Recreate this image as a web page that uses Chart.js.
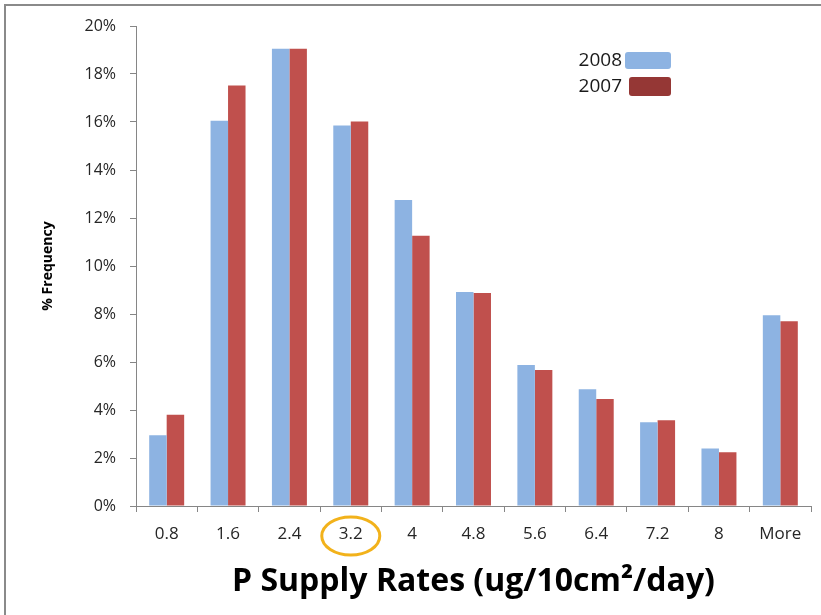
<!DOCTYPE html>
<html>
<head>
<meta charset="utf-8">
<script src="https://cdn.jsdelivr.net/npm/chart.js@4/dist/chart.umd.min.js"></script>
<style>
  html, body { margin: 0; padding: 0; background: #fff; }
  #wrap { width: 821px; height: 615px; position: relative; }
</style>
</head>
<body>
<div id="wrap"><canvas id="freqChart" width="821" height="615"></canvas></div>
<script>
// P supply rate bins and % frequency per year
const rateBins = ['0.8', '1.6', '2.4', '3.2', '4', '4.8', '5.6', '6.4', '7.2', '8', 'More'];
const freq2008 = [2.95, 16.05, 19.05, 15.85, 12.75, 8.92, 5.88, 4.86, 3.49, 2.4, 7.95];
const freq2007 = [3.8, 17.52, 19.05, 16.02, 11.26, 8.87, 5.67, 4.46, 3.57, 2.24, 7.7];
const yTicks = [0, 2, 4, 6, 8, 10, 12, 14, 16, 18, 20];

const blue = '#8db3e2';
const red = '#c0504d';
const legendRed = '#953735';
const labelFont = '"Open Sans", Lato, sans-serif';

let ctx = document.getElementById('freqChart').getContext('2d');

// frame lines + circle around 3.2 + legend on the right side
const extras = {
  id: 'extras',
  beforeDraw(chart) {
    let c = chart.ctx;
    c.save();
    c.fillStyle = '#fff';
    c.fillRect(0, 0, chart.width, chart.height);
    c.strokeStyle = '#8a8a8a';
    c.lineWidth = 2;
    c.beginPath();
    c.moveTo(5, chart.height);
    c.lineTo(5, 5);
    c.lineTo(chart.width, 5);
    c.stroke();
    c.restore();
  },
  afterDraw(chart) {
    let c = chart.ctx;
    let xs = chart.scales.x;
    c.save();
    // highlight ring around the 3.2 label
    let cx = xs.getPixelForValue(3);
    c.strokeStyle = '#f2b21b';
    c.lineWidth = 3;
    c.beginPath();
    c.ellipse(cx, 536, 29, 19, 0, 0, Math.PI * 2);
    c.stroke();

    // legend
    c.font = '19px ' + labelFont;
    c.fillStyle = '#1a1a1a';
    c.textAlign = 'right';
    c.textBaseline = 'middle';
    c.fillText('2008', 622, 61);
    c.fillText('2007', 622, 87);
    roundRect(c, 625, 52, 46, 17, 3, blue);
    roundRect(c, 629, 77, 42, 19, 3, legendRed);
    c.restore();
  }
};

function roundRect(c, x, y, w, h, r, color) {
  c.fillStyle = color;
  c.beginPath();
  c.roundRect(x, y, w, h, r);
  c.fill();
}

let chart = new Chart(ctx, {
  type: 'bar',
  data: {
    labels: rateBins,
    datasets: [{
      label: '2008',
      backgroundColor: blue,
      data: freq2008
    }, {
      label: '2007',
      backgroundColor: red,
      data: freq2007
    }]
  },
  options: {
    responsive: false,
    animation: false,
    layout: { padding: { top: 26, right: 10, left: 0, bottom: 0 } },
    plugins: {
      legend: { display: false },
      tooltip: { enabled: false }
    },
    datasets: {
      bar: { categoryPercentage: 0.57, barPercentage: 1.0 }
    },
    scales: {
      x: {
        offset: true,
        grid: {
          offset: true,
          drawOnChartArea: false,
          drawTicks: true,
          tickLength: 6,
          color: '#868686'
        },
        border: { color: '#868686', width: 1 },
        ticks: {
          color: '#262626',
          font: { family: labelFont, size: 17 },
          padding: 12,
          maxRotation: 0
        },
        title: {
          display: true,
          text: 'P Supply Rates (ug/10cm\u00b2/day)',
          color: '#000',
          font: { family: labelFont, size: 32, weight: 'bold' },
          padding: { top: 0, bottom: 14 }
        },
        afterFit(scale) { scale.height = 109; }
      },
      y: {
        min: 0,
        max: 20,
        afterBuildTicks(scale) {
          scale.ticks = yTicks.map(v => ({ value: v }));
        },
        grid: {
          drawOnChartArea: false,
          drawTicks: true,
          tickLength: 6,
          color: '#868686'
        },
        border: { color: '#868686', width: 1 },
        ticks: {
          color: '#262626',
          font: { family: labelFont, size: 16 },
          padding: 14,
          callback: v => v + '%'
        },
        title: {
          display: true,
          text: '% Frequency',
          color: '#000',
          font: { family: labelFont, size: 14, weight: 'bold' },
          padding: { top: 40, bottom: 0 }
        },
        afterFit(scale) { scale.width = 136; }
      }
    }
  },
  plugins: [extras]
});
</script>
</body>
</html>
